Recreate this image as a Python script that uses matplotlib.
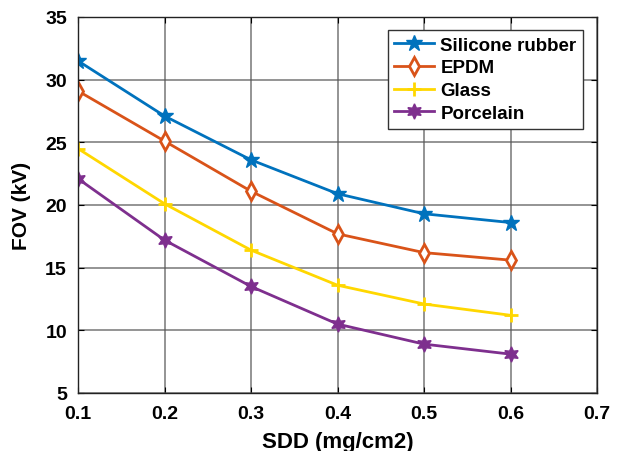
import matplotlib
matplotlib.use("Agg")
import matplotlib.pyplot as plt

sdd = [0.1, 0.2, 0.3, 0.4, 0.5, 0.6]
silicone = [31.5, 27.1, 23.6, 20.9, 19.3, 18.6]
epdm = [29.1, 25.1, 21.1, 17.7, 16.2, 15.6]
glass = [24.5, 20.1, 16.4, 13.6, 12.1, 11.2]
porcelain = [22.1, 17.2, 13.5, 10.5, 8.9, 8.1]
labels = ["Silicone rubber", "EPDM", "Glass", "Porcelain"]
xticks = [0.1, 0.2, 0.3, 0.4, 0.5, 0.6, 0.7]
yticks = [5, 10, 15, 20, 25, 30, 35]

plt.rcParams['font.family'] = ['Liberation Sans', 'DejaVu Sans']
plt.rcParams['font.weight'] = 'bold'

fig = plt.figure(figsize=(6.28, 4.52), dpi=100)
ax = fig.add_axes([78/628, 1-394/452, (597-78)/628, (394-18)/452])

ax.plot(sdd, silicone, color='#0072BD', lw=2, marker='*', ms=12, label=labels[0])
ax.plot(sdd, epdm, color='#D95319', lw=2, marker='d', ms=9, mfc='white', mew=2, label=labels[1])
ax.plot(sdd, glass, color='#FFD700', lw=2, marker='+', ms=10, mew=2, label=labels[2])
ax.plot(sdd, porcelain, color='#7E2F8E', lw=2, marker=(6, 1, 0), ms=11, label=labels[3])

ax.set_xlim(0.1, 0.7)
ax.set_ylim(5, 35)
ax.set_xticks(xticks)
ax.set_yticks(yticks)
ax.set_xticklabels([f"{v:.1f}" for v in xticks])
ax.set_yticklabels([str(v) for v in yticks])
ax.tick_params(direction='in', labelsize=14, length=4, top=True, right=True)
ax.tick_params(axis='x', pad=9)
ax.tick_params(axis='y', pad=8)
for lab in ax.get_xticklabels() + ax.get_yticklabels():
    lab.set_fontweight('bold')
ax.grid(True, color='#555555', lw=1.1, alpha=0.8)
ax.set_axisbelow(True)
for s in ax.spines.values():
    s.set_linewidth(1.0)
    s.set_color('#222222')

ax.set_xlabel("SDD (mg/cm2)", fontsize=16, fontweight='bold', labelpad=6)
ax.set_ylabel("FOV (kV)", fontsize=15, fontweight='bold', labelpad=10)

leg = ax.legend(loc='upper right', bbox_to_anchor=(583/628, 1 - 31/452),
                bbox_transform=fig.transFigure, fontsize=13.5,
                frameon=True, fancybox=False, edgecolor='#333333', framealpha=1,
                handlelength=2.1, borderpad=0.35, labelspacing=0.3, handletextpad=0.35,
                borderaxespad=0)
leg.get_frame().set_linewidth(1.0)
for t in leg.get_texts():
    t.set_fontweight('bold')

fig.savefig("out.png", dpi=100)
